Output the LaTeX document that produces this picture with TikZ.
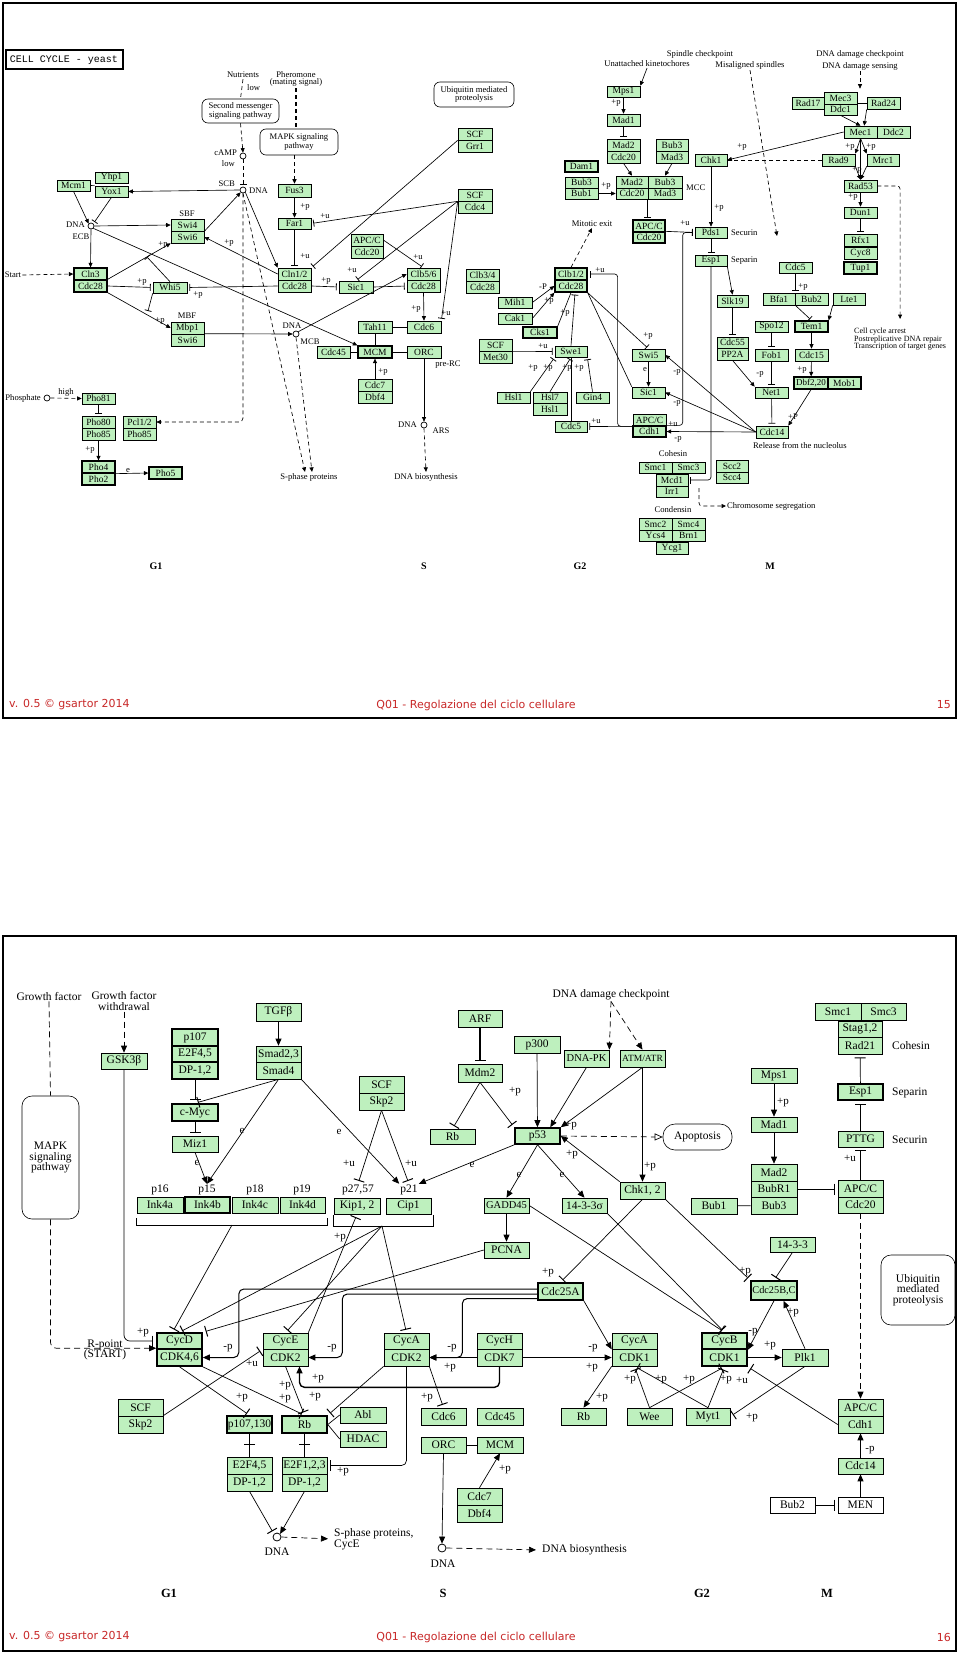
\documentclass[tikz,border=0pt]{standalone}
\usepackage{fontspec}
\setmainfont{Liberation Serif}
\newfontfamily\ftsans{DejaVu Sans}
\newfontfamily\ftmono{Liberation Mono}
\usetikzlibrary{arrows.meta,calc}
\definecolor{kg}{RGB}{190,240,190}
\definecolor{fred}{RGB}{200,40,40}
\newcount\lbc
\newcommand\bx[7][]{\node[gbox,minimum width={#5-#3},minimum height={#6-#4},#1] (#2) at ({(#3+#5)/2},{(#4+#6)/2}) {#7};}
\newcommand\lb[4][]{\global\advance\lbc by 1\relax\node[lab,#1] (lb\the\lbc) at (#2,#3) {#4};}
\tikzset{
 bfont/.style={font=\fontsize{9.5}{9.5}\selectfont},
 lfont/.style={font=\fontsize{8.6}{8.6}\selectfont},
 tfont/.style={font=\fontsize{8.6}{8.6}\selectfont},
 gbox/.style={draw, fill=kg, inner sep=0pt, line width=0.65pt, bfont},
 bd/.style={line width=1.3pt},
 wbox/.style={fill=white},
 pill/.style={draw, rounded corners=6pt, inner sep=1pt, align=center, line width=0.6pt, tfont},
 ln/.style={line width=0.65pt},
 arr/.style={ln, -{Triangle[length=4.5pt,width=4pt]}},
 inh/.style={ln, -{Bar[width=7pt,line width=0.8pt]}, shorten >=2pt},
 dsh/.style={dash pattern=on 4pt off 3pt},
 lab/.style={inner sep=0.3pt, lfont},
 txt/.style={inner sep=1pt, tfont, align=center},
 dot/.style={circle, draw, fill=white, inner sep=0pt, minimum size=6pt, line width=0.7pt},
 phase/.style={inner sep=0pt, font=\bfseries\fontsize{10}{10}\selectfont},
 foot/.style={inner sep=0pt, text=fred, font=\ftsans\fontsize{11}{11}\selectfont},
}
\begin{document}
\begin{tikzpicture}[x=1pt,y=-1pt]
\fill[white] (0,0) rectangle (960,1654);
\useasboundingbox (0,0) rectangle (960,1654);
% ================= TOP SLIDE =================
\draw[line width=2.2pt] (3,3) rectangle (956,718);
\node[foot,anchor=west] (f1) at (9,705) {v. 0.5 © gsartor 2014};
\node[foot] (f2) at (476,705) {Q01 - Regolazione del ciclo cellulare};
\node[foot,anchor=east] (f3) at (951,705) {15};
\node[draw, line width=2pt, minimum width=117, minimum height=19, inner sep=0, font=\ftmono\fontsize{10}{10}\selectfont] (title) at (64,60) {CELL CYCLE - yeast};
\begin{scope}
% free texts
\node[txt] (nutr) at (243,75) {Nutrients};
\node[txt,anchor=west] (nlow) at (246,88) {low};
\node[txt, font=\fontsize{8.6}{7.8}\selectfont] (phero) at (296,79) {Pheromone\\(mating signal)};
\node[pill, minimum width=77, minimum height=24] (secm) at (240.5,111) {Second messenger\\signaling pathway};
\node[pill, minimum width=78, minimum height=26] (mapky) at (299,142) {MAPK signaling\\pathway};
\node[pill, minimum width=80, minimum height=25] (ubqy) at (474,94.5) {Ubiquitin mediated\\proteolysis};
\node[dot] (camp) at (243,156) {};
\node[txt,anchor=east] (campl) at (238,153) {cAMP};
\node[txt,anchor=east] (campl2) at (236,164) {low};
\node[dot] (scb) at (243,190) {};
\node[txt,anchor=east] (scbl) at (236,184) {SCB};
\node[txt,anchor=west] (scbd) at (248,191) {DNA};
\node[dot] (ecb) at (91,226) {};
\node[txt,anchor=east] (ecbl) at (86,225) {DNA};
\node[txt] (ecbl2) at (81,237) {ECB};
\node[dot] (mcb) at (296,334) {};
\node[txt] (mcbl) at (292,326) {DNA};
\node[txt] (mcbl2) at (310,342) {MCB};
\node[dot] (ars) at (424,425) {};
\node[txt,anchor=east] (arsl) at (418,425) {DNA};
\node[txt] (arsl2) at (441,431) {ARS};
\node[dot] (pho) at (47,398) {};
\node[txt,anchor=east] (phol) at (42,398) {Phosphate};
\node[txt] (start) at (13,275) {Start};
\node[txt] (sph) at (309,477) {S-phase proteins};
\node[txt] (dnab) at (426,477) {DNA biosynthesis};
\node[txt] (prerc) at (448,365) {pre-RC};
\node[txt] (mitex) at (592,224) {Mitotic exit};
\node[txt] (spck) at (700,54) {Spindle checkpoint};
\node[txt] (unatt) at (647,64) {Unattached kinetochores};
\node[txt] (misal) at (750,65) {Misaligned spindles};
\node[txt] (dnack) at (860,54) {DNA damage checkpoint};
\node[txt] (dnase) at (860,66) {DNA damage sensing};
\node[txt,anchor=west] (mccl) at (685,188) {MCC};
\node[txt,anchor=west] (secl) at (730,233) {Securin};
\node[txt,anchor=west] (sepl) at (730,261) {Separin};
\node[txt,anchor=north west,align=left,font=\fontsize{8}{7.6}\selectfont] (arrest) at (853,327) {Cell cycle arrest\\Postreplicative DNA repair\\Transcription of target genes};
\node[txt,anchor=west] (relnuc) at (752,446) {Release from the nucleolus};
\node[txt] (cohl) at (673,454) {Cohesin};
\node[txt] (conl) at (673,510) {Condensin};
\node[txt,anchor=west] (chrs) at (726,506) {Chromosome segregation};
\node[txt] (sbfl) at (187,214) {SBF};
\node[txt] (mbfl) at (187,316) {MBF};
\node[phase] (g1t) at (156,566) {G1};
\node[phase] (st) at (424,566) {S};
\node[phase] (g2t) at (580,566) {G2};
\node[phase] (mt) at (770,566) {M};
% boxes
\bx{mcm1}{57}{180}{90}{191}{Mcm1}
\bx{yhp1}{95}{172}{128}{183}{Yhp1}
\bx{yox1}{95}{186}{128}{197}{Yox1}
\bx{swi4}{171}{219}{204}{231}{Swi4}
\bx{swi6a}{171}{231}{204}{243}{Swi6}
\bx[bd]{cln3}{74}{268}{107}{280}{Cln3}
\bx[bd]{cdc28a}{74}{280}{107}{292}{Cdc28}
\bx{whi5}{153}{282}{187}{293}{Whi5}
\bx{mbp1}{171}{322}{204}{334}{Mbp1}
\bx{swi6b}{171}{334}{204}{346}{Swi6}
\bx{fus3}{278}{184}{311}{197}{Fus3}
\bx{far1}{278}{218}{311}{229}{Far1}
\bx{cln12}{278}{268}{311}{280}{Cln1/2}
\bx{cdc28b}{278}{280}{311}{292}{Cdc28}
\bx{scf1}{458}{128}{492}{140}{SCF}
\bx{grr1}{458}{140}{492}{152}{Grr1}
\bx{scf2}{458}{189}{492}{201}{SCF}
\bx{cdc4}{458}{201}{492}{213}{Cdc4}
\bx{apcc1}{351}{234}{383}{246}{APC/C}
\bx{cdc20a}{351}{246}{383}{258}{Cdc20}
\bx{sic1}{339}{281}{373}{293}{Sic1}
\bx{clb56}{407}{268}{440}{280}{Clb5/6}
\bx{cdc28c}{407}{280}{440}{292}{Cdc28}
\bx{clb34}{466}{269}{499}{281}{Clb3/4}
\bx{cdc28d}{466}{281}{499}{293}{Cdc28}
\bx[bd]{clb12}{555}{268}{587}{280}{Clb1/2}
\bx[bd]{cdc28e}{555}{280}{587}{292}{Cdc28}
\bx{mih1}{498}{297}{532}{308}{Mih1}
\bx{cak1}{498}{313}{532}{324}{Cak1}
\bx[bd]{cks1}{523}{327}{557}{338}{Cks1}
\bx{scf3}{479}{339}{512}{351}{SCF}
\bx{met30}{479}{351}{512}{363}{Met30}
\bx{swe1}{555}{346}{587}{357}{Swe1}
\bx{hsl1}{497}{392}{530}{403}{Hsl1}
\bx{hsl7}{533}{392}{567}{403}{Hsl7}
\bx{hsl1b}{533}{403}{567}{415}{Hsl1}
\bx{gin4}{576}{392}{609}{403}{Gin4}
\bx{cdc5a}{555}{421}{587}{432}{Cdc5}
\bx{tah11}{358}{321}{392}{333}{Tah11}
\bx{cdc6y}{407}{321}{441}{333}{Cdc6}
\bx{cdc45y}{317}{346}{350}{358}{Cdc45}
\bx[bd]{mcmy}{358}{346}{392}{358}{MCM}
\bx{orcy}{407}{346}{441}{358}{ORC}
\bx{cdc7y}{358}{379}{392}{391}{Cdc7}
\bx{dbf4y}{358}{391}{392}{403}{Dbf4}
\bx{pho81}{82}{393}{115}{404}{Pho81}
\bx{pho80}{82}{416}{115}{428}{Pho80}
\bx{pho85a}{82}{428}{115}{440}{Pho85}
\bx{pcl12}{123}{416}{156}{428}{Pcl1/2}
\bx{pho85b}{123}{428}{156}{440}{Pho85}
\bx[bd]{pho4}{82}{461}{115}{473}{Pho4}
\bx[bd]{pho2}{82}{473}{115}{485}{Pho2}
\bx[bd]{pho5}{149}{467}{182}{479}{Pho5}
\bx{mps1}{607}{86}{640}{97}{Mps1}
\bx{mad1}{607}{114}{640}{126}{Mad1}
\bx{mad2a}{607}{139}{640}{151}{Mad2}
\bx{cdc20b}{607}{151}{640}{163}{Cdc20}
\bx[bd]{dam1}{565}{161}{598}{172}{Dam1}
\bx{bub3a}{565}{177}{598}{188}{Bub3}
\bx{bub1}{565}{188}{598}{199}{Bub1}
\bx{bub3b}{656}{139}{688}{151}{Bub3}
\bx{mad3a}{656}{151}{688}{163}{Mad3}
\bx{mad2b}{616}{176}{648}{188}{Mad2}
\bx{bub3c}{648}{176}{682}{188}{Bub3}
\bx{cdc20c}{616}{188}{648}{199}{Cdc20}
\bx{mad3b}{648}{188}{682}{199}{Mad3}
\bx[bd]{apcc2}{633}{220}{665}{232}{APC/C}
\bx[bd]{cdc20d}{633}{232}{665}{243}{Cdc20}
\bx{chk1}{695}{154}{727}{166}{Chk1}
\bx{pds1}{695}{227}{727}{238}{Pds1}
\bx{esp1}{695}{255}{727}{266}{Esp1}
\bx{slk19}{717}{295}{748}{307}{Slk19}
\bx{cdc5b}{779}{262}{812}{273}{Cdc5}
\bx{bfa1}{763}{293}{795}{305}{Bfa1}
\bx{bub2}{795}{293}{828}{305}{Bub2}
\bx{lte1}{833}{293}{865}{305}{Lte1}
\bx[bd]{tem1}{795}{321}{828}{332}{Tem1}
\bx{cdc15}{795}{349}{828}{361}{Cdc15}
\bx[bd,font=\fontsize{9}{9}\selectfont]{dbf2}{794}{377}{828}{389}{Dbf2,20}
\bx[bd]{mob1}{828}{377}{861}{389}{Mob1}
\bx{spo12}{755}{321}{788}{332}{Spo12}
\bx{fob1}{755}{349}{788}{361}{Fob1}
\bx{net1}{755}{387}{788}{398}{Net1}
\bx{cdc55}{717}{337}{748}{348}{Cdc55}
\bx{pp2a}{717}{348}{748}{360}{PP2A}
\bx{cdc14y}{756}{426}{788}{438}{Cdc14}
\bx{swi5}{632}{349}{665}{361}{Swi5}
\bx{sic1b}{632}{387}{665}{398}{Sic1}
\bx{apcc3}{633}{414}{666}{426}{APC/C}
\bx[bd]{cdh1y}{633}{426}{666}{437}{Cdh1}
\bx{smc1}{639}{462}{672}{473}{Smc1}
\bx{smc3}{672}{462}{705}{473}{Smc3}
\bx{mcd1}{656}{474}{688}{486}{Mcd1}
\bx{irr1}{656}{486}{688}{497}{Irr1}
\bx{scc2}{716}{460}{748}{472}{Scc2}
\bx{scc4}{716}{472}{748}{483}{Scc4}
\bx{smc2}{639}{518}{672}{530}{Smc2}
\bx{smc4}{672}{518}{705}{530}{Smc4}
\bx{ycs4}{639}{530}{672}{541}{Ycs4}
\bx{brn1}{672}{530}{705}{541}{Brn1}
\bx{ycg1}{656}{542}{688}{554}{Ycg1}
\bx{mec3}{824}{92}{857}{104}{Mec3}
\bx{ddc1}{824}{104}{857}{115}{Ddc1}
\bx{rad17}{792}{97}{824}{109}{Rad17}
\bx{rad24}{867}{97}{900}{109}{Rad24}
\bx{mec1}{844}{126}{877}{138}{Mec1}
\bx{ddc2}{877}{126}{910}{138}{Ddc2}
\bx{rad9}{822}{154}{855}{166}{Rad9}
\bx{mrc1}{867}{154}{899}{166}{Mrc1}
\bx{rad53}{844}{180}{877}{192}{Rad53}
\bx{dun1}{844}{207}{877}{218}{Dun1}
\bx{rfx1}{844}{234}{877}{246}{Rfx1}
\bx{cyc8}{844}{247}{877}{259}{Cyc8}
\bx[bd]{tup1}{844}{262}{877}{274}{Tup1}
\coordinate (w1) at (147,257);
\coordinate (w2) at (148,311);
\coordinate (msend) at (777,236);
\coordinate (cs0) at (699,488);
% edges
\draw[ln,dsh] (nutr.south) -- (secm.north);
\draw[ln,dsh,line width=1.2pt] (phero.south) -- (phero.south |- mapky.north);
\draw[arr,dsh] (secm.south) -- (camp.north);
\draw[inh,dsh] (camp.south) -- (scb.north);
\draw[arr,dsh,line width=1.2pt] (mapky.south -| fus3.north) -- (fus3.north);
\draw[arr] (fus3) -- (far1);
\draw[inh] (far1.south) -- (cln12.north);
\draw[inh] (scf1.south west) -- (cln12.north east);
\draw[inh] (scf2.south west) -- (far1.east);
\draw[inh] (scf2.south west) -- (sic1.north);
\draw[inh] (scf2.south west) -- (cdc6y.north east);
\draw[inh] (apcc1.east) -- (clb56.north);
\draw[inh] (cdc28b.east) -- (sic1.west);
\draw[inh] (sic1.east) -- (cdc28c.west);
\draw[arr] (mcb.north east) -- (clb56.west);
\draw[arr] (cdc28c.south) -- (cdc6y.north);
\draw[ln] (mcm1.east) -- (yox1.north west);
\draw[arr] (mcm1.south) -- (ecb.north west);
\draw[inh] (yox1.south) -- (ecb.north east);
\draw[arr] (ecb.east) -- (swi4.west);
\draw[arr] (swi4.south east) -- (scb.south west);
\draw[arr] (cln12.west) -- (swi6a.east);
\draw[arr] (scb.west) -- (yox1.east);
\draw[arr] (scb.south east) -- (cln12.north west);
\draw[arr] (ecb.south) -- (cln3.north);
\draw[arr,dsh] (start.east) -- (cln3.west);
\draw[arr] (cdc28a.north east) -- (swi6a.south west);
\draw[inh] (cdc28a.east) -- (whi5.west);
\draw[inh] (cdc28b.west) -- (whi5.east);
\draw[inh,shorten >=0pt] (whi5.north) -- (w1);
\draw[inh,shorten >=0pt] (whi5.south west) -- (w2);
\draw[arr] (cdc28a.south east) -- (mbp1.west);
\draw[arr] (swi6b.north east) -- (mcb.west);
\draw[arr] (ecb.south east) -- (mcmy.north west);
\draw[arr,dsh] (scb.south) -- ([xshift=-4pt]sph.north);
\draw[arr,dsh] (mcb.south) -- ([xshift=3pt]sph.north);
\draw[arr,dsh,rounded corners=4pt] (scb.south) |- (pcl12.east);
\draw[ln] (tah11) -- (cdc6y);
\draw[ln] (tah11) -- (mcmy);
\draw[ln] (cdc45y) -- (mcmy);
\draw[ln] (mcmy) -- (orcy);
\draw[arr] (cdc7y) -- (mcmy);
\draw[arr] (orcy.south) -- (ars.north);
\draw[arr,dsh] (ars.south) -- (dnab.north);
\draw[arr,dsh] (pho.east) -- (pho81.west);
\draw[inh] (pho81) -- (pho80);
\draw[arr] (pho85a) -- (pho4);
\draw[arr] (pho4.south east) -- (pho5.west);
\draw[arr] (unatt.south) -- (mps1.north east);
\draw[arr] (mps1) -- (mad1);
\draw[inh] (mad1) -- (mad2a);
\draw[arr] (cdc20b.south) -- (mad2b.north);
\draw[arr] (mad3a.south) -- (bub3c.north);
\draw[arr] (bub1.east) -- (cdc20c.west);
\draw[inh] (mad3b.south west) -- (mad3b.south west |- apcc2.north);
\draw[inh] (cdc20d.north east) -- (pds1.west);
\draw[arr,dsh] (misal.south) -- (msend);
\draw[arr] (chk1) -- (pds1);
\draw[inh] (pds1) -- (esp1);
\draw[arr] (esp1.south east) -- (slk19.north);
\draw[inh,rounded corners=3pt] (esp1.south) |- (mcd1.east);
\draw[inh] (slk19) -- (cdc55);
\draw[arr] (pp2a.south) -- (net1.north west);
\draw[inh] (spo12) -- (fob1);
\draw[inh] (fob1) -- (net1);
\draw[inh] (net1) -- (cdc14y);
\draw[inh] (cdc5b.south) -- (cdc5b.south |- bfa1.north);
\draw[inh] (bfa1.south east) -- (tem1.north);
\draw[arr] (lte1.south west) -- (tem1.north east);
\draw[arr] (tem1) -- (cdc15);
\draw[arr] (cdc15) -- (dbf2);
\draw[arr] (dbf2.south) -- (cdc14y.north east);
\draw[arr] (cdc14y.west) -- (swi5.east);
\draw[arr] (cdc14y.west) -- (sic1b.east);
\draw[arr] (cdc14y.west) -- (cdh1y.east);
\draw[arr] (swi5) -- (sic1b);
\draw[inh] (cdc28e.south east) -- (swi5.north);
\draw[ln] (cdc28e.south east) -- (sic1b.north west);
\draw[inh,rounded corners=3pt] (apcc3.south west) -| ([xshift=30pt]clb12.east) -- (clb12.east);
\draw[inh] (apcc3.south west) -- (cdc5a.east);
\draw[inh,rounded corners=3pt] (cdh1y.north east) -| ([xshift=-12pt]pds1.west) -- (pds1.west);
\draw[arr] (mec1.west) -- (chk1.east);
\draw[ln,dsh] (rad9.west) -- (chk1.east);
\draw[ln] (rad24.west -| mec3.east) -- (rad24.west);
\draw[arr] (ddc1.south) -- (mec1.north);
\draw[arr] (rad24.south west) -- (mec1.60);
\draw[arr] (mec1.south) -- (rad9.north east);
\draw[arr] (mec1.south) -- (mrc1.north west);
\draw[arr,line width=1.2pt] (mec1.south) -- (rad53.north);
\draw[arr] (rad9.south east) -- (rad53.north);
\draw[arr] (mrc1.south west) -- (rad53.north);
\draw[arr] (rad53) -- (dun1);
\draw[inh] (dun1) -- (rfx1);
\draw[arr,dsh,rounded corners=3pt,shorten >=8pt] (rad53.east) -| (arrest.north);
\draw[arr,dsh,shorten >=3pt] (dnase.south) -- (dnase.south |- mec3.north);
\draw[arr,dsh,rounded corners=3pt] (cs0) |- (chrs.west);
\draw[arr,dsh] (clb12.north) -- (mitex.south);
\draw[arr] (mih1.east) -- (cdc28e.west);
\draw[arr] (cak1.east) -- (cdc28e.south west);
\draw[ln] (cks1.north east) -- (cdc28e.south);
\draw[inh] (swe1.north) -- ([xshift=4pt]cdc28e.south);
\draw[inh] (scf3.south east) -- (swe1.west);
\draw[inh] (hsl1.north east) -- (swe1.south west);
\draw[inh] (hsl7.north) -- (swe1.south);
\draw[inh] (gin4.north) -- (swe1.south east);
\draw[ln] (swe1.south) -- (cdc5a.north);
% labels
\lb{305}{207}{+p} \lb{325}{216}{+u} \lb{305}{256}{+u} \lb{352}{270}{+u}
\lb{326}{281}{+p} \lb{418}{257}{+u} \lb{416}{309}{+p} \lb{446}{313}{+u}
\lb{163}{245}{+p} \lb{229}{243}{+p} \lb{142}{282}{+p} \lb{198}{295}{+p}
\lb{160}{321}{+p} \lb{383}{372}{+p} \lb{66}{392}{high} \lb{90}{450}{+p}
\lb{128}{471}{e} \lb{616}{103}{+p} \lb{606}{186}{+p} \lb{685}{223}{+u}
\lb{719}{208}{+p} \lb{742}{147}{+p} \lb{850}{147}{+p} \lb{871}{147}{+p}
\lb{857}{170}{+p} \lb{853}{197}{+p} \lb{803}{287}{+p} \lb{802}{370}{+p}
\lb{793}{417}{+P} \lb{760}{374}{-p} \lb{677}{372}{-p} \lb{677}{403}{-p}
\lb{678}{439}{-p} \lb{645}{370}{e} \lb{648}{336}{+p} \lb{600}{270}{+u}
\lb{596}{421}{+u} \lb{673}{424}{+u} \lb{543}{287}{-P} \lb{549}{301}{+p}
\lb{565}{313}{+p} \lb{543}{346}{+u} \lb{533}{368}{+p} \lb{548}{368}{+p}
\lb{567}{368}{+p} \lb{579}{368}{+p}
\end{scope}
% ================= BOTTOM SLIDE =================
\draw[line width=2.2pt] (3,936) rectangle (956,1651);
\node[foot,anchor=west] (f4) at (9,1637) {v. 0.5 © gsartor 2014};
\node[foot] (f5) at (476,1637) {Q01 - Regolazione del ciclo cellulare};
\node[foot,anchor=east] (f6) at (951,1637) {16};
\begin{scope}[
 bfont/.style={font=\fontsize{11.5}{11.5}\selectfont},
 lfont/.style={font=\fontsize{11}{11}\selectfont},
 tfont/.style={font=\fontsize{11.5}{10.5}\selectfont},
 ln/.style={line width=0.7pt},
 arr/.style={ln, -{Triangle[length=7pt,width=6pt]}},
 inh/.style={ln, -{Bar[width=11pt,line width=1pt]}, shorten >=3pt},
 bd/.style={line width=1.6pt},
 dot/.style={circle, draw, fill=white, inner sep=0pt, minimum size=8pt, line width=0.8pt},
 phase/.style={inner sep=0pt, font=\bfseries\fontsize{12.5}{12.5}\selectfont},
 dsh/.style={dash pattern=on 6pt off 4pt}]
\node[txt] (gf) at (49,996) {Growth factor};
\node[txt] (gfw) at (124,1001) {Growth factor\\withdrawal};
\node[pill, minimum width=57, minimum height=123, rounded corners=10pt] (mapkh) at (50.5,1157.5) {MAPK\\signaling\\pathway};
\node[txt] (dnadc) at (611,995) {DNA damage checkpoint};
\node[txt] (rpt) at (105,1350) {R-point\\(START)};
\node[txt,anchor=west,align=left] (sphh) at (333,1539) {S-phase proteins,\\CycE};
\node[txt,anchor=west] (dnabh) at (541,1550) {DNA biosynthesis};
\node[dot] (dnag1) at (277,1537) {};
\node[txt] (dnag1l) at (277,1552) {DNA};
\node[dot] (dnas) at (442,1548) {};
\node[txt] (dnasl) at (443,1564) {DNA};
\node[pill, minimum width=69, minimum height=26, rounded corners=12pt] (apop) at (697.5,1137) {Apoptosis};
\node[pill, minimum width=74, minimum height=70, rounded corners=10pt] (ubqh) at (918,1290) {Ubiquitin\\mediated\\proteolysis};
\node[txt] (p16l) at (160,1190) {p16};
\node[txt] (p15l) at (207,1190) {p15};
\node[txt] (p18l) at (255,1190) {p18};
\node[txt] (p19l) at (302,1190) {p19};
\node[txt] (p27l) at (358,1190) {p27,57};
\node[txt] (p21l) at (409,1190) {p21};
\node[txt,anchor=west] (cohh) at (891,1046) {Cohesin};
\node[txt,anchor=west] (seph) at (891,1093) {Separin};
\node[txt,anchor=west] (sech) at (891,1140) {Securin};
\node[phase] (g1b) at (169,1593) {G1};
\node[phase] (sb) at (443,1593) {S};
\node[phase] (g2b) at (702,1593) {G2};
\node[phase] (mb) at (827,1593) {M};
% boxes
\bx{gsk}{101}{1053}{147}{1069}{GSK3β}
\bx[bd]{p107a}{172}{1029}{218}{1046}{p107}
\bx[bd]{e2f45a}{172}{1046}{218}{1062}{E2F4,5}
\bx[bd]{dp12a}{172}{1062}{218}{1079}{DP-1,2}
\bx{tgfb}{256}{1003}{301}{1021}{TGFβ}
\bx{smad23}{256}{1046}{301}{1062}{Smad2,3}
\bx{smad4}{256}{1062}{301}{1079}{Smad4}
\bx[bd]{cmyc}{172}{1104}{218}{1121}{c-Myc}
\bx{miz1}{172}{1136}{218}{1152}{Miz1}
\bx{ink4a}{137}{1197}{183}{1213}{Ink4a}
\bx[bd]{ink4b}{185}{1197}{230}{1213}{Ink4b}
\bx{ink4c}{232}{1197}{278}{1213}{Ink4c}
\bx{ink4d}{280}{1197}{325}{1213}{Ink4d}
\bx{arf}{458}{1010}{502}{1027}{ARF}
\bx{mdm2}{458}{1064}{502}{1082}{Mdm2}
\bx{rba}{430}{1129}{475}{1144}{Rb}
\bx{p300}{514}{1036}{560}{1053}{p300}
\bx[font=\fontsize{10.5}{10.5}\selectfont]{dnapk}{564}{1050}{609}{1067}{DNA-PK}
\bx[font=\fontsize{9.5}{9.5}\selectfont]{atm}{620}{1050}{665}{1067}{ATM/ATR}
\bx[bd]{p53}{515}{1128}{560}{1144}{p53}
\bx{scfa}{359}{1076}{404}{1093}{SCF}
\bx{skp2a}{359}{1093}{404}{1110}{Skp2}
\bx{kip}{334}{1198}{380}{1214}{Kip1, 2}
\bx{cip}{386}{1198}{431}{1214}{Cip1}
\bx[font=\fontsize{10.5}{10.5}\selectfont]{gadd}{484}{1198}{529}{1213}{GADD45}
\bx{s1433s}{562}{1198}{607}{1213}{14-3-3σ}
\bx{chk12}{620}{1182}{665}{1199}{Chk1, 2}
\bx{pcna}{484}{1242}{529}{1258}{PCNA}
\bx[bd]{cdc25a}{538}{1283}{583}{1300}{Cdc25A}
\bx{mps1h}{751}{1068}{797}{1083}{Mps1}
\bx{mad1h}{751}{1117}{797}{1132}{Mad1}
\bx{mad2h}{751}{1164}{797}{1181}{Mad2}
\bx{bubr1}{751}{1181}{797}{1197}{BubR1}
\bx{bub3h}{751}{1197}{797}{1214}{Bub3}
\bx{bub1h}{691}{1198}{737}{1214}{Bub1}
\bx{smc1h}{815}{1003}{861}{1020}{Smc1}
\bx{smc3h}{861}{1003}{906}{1020}{Smc3}
\bx{stag}{838}{1021}{882}{1037}{Stag1,2}
\bx{rad21}{838}{1037}{882}{1054}{Rad21}
\bx[bd]{esp1h}{838}{1084}{883}{1100}{Esp1}
\bx{pttg}{838}{1131}{883}{1147}{PTTG}
\bx{apcca}{838}{1180}{883}{1197}{APC/C}
\bx{cdc20h}{838}{1197}{883}{1213}{Cdc20}
\bx{s1433}{770}{1237}{815}{1252}{14-3-3}
\bx[bd,font=\fontsize{10.3}{10.3}\selectfont]{cdc25bc}{751}{1281}{797}{1300}{Cdc25B,C}
\bx[bd]{cycd}{157}{1333}{202}{1349}{CycD}
\bx[bd]{cdk46}{157}{1349}{202}{1366}{CDK4,6}
\bx{cyce}{263}{1333}{308}{1349}{CycE}
\bx{cdk2e}{263}{1349}{308}{1366}{CDK2}
\bx{cyca2}{384}{1333}{429}{1349}{CycA}
\bx{cdk2a}{384}{1349}{429}{1366}{CDK2}
\bx{cych}{477}{1333}{522}{1349}{CycH}
\bx{cdk7}{477}{1349}{522}{1366}{CDK7}
\bx{cyca1}{612}{1333}{657}{1349}{CycA}
\bx{cdk1a}{612}{1349}{657}{1366}{CDK1}
\bx[bd]{cycb}{702}{1333}{747}{1349}{CycB}
\bx[bd]{cdk1b}{702}{1349}{747}{1366}{CDK1}
\bx{plk1}{782}{1349}{828}{1366}{Plk1}
\bx{scfb}{118}{1399}{163}{1416}{SCF}
\bx{skp2b}{118}{1416}{163}{1433}{Skp2}
\bx[bd]{p107130}{227}{1416}{272}{1433}{p107,130}
\bx[bd]{rbb}{282}{1416}{327}{1433}{Rb}
\bx{abl}{340}{1407}{386}{1423}{Abl}
\bx{hdac}{340}{1431}{386}{1447}{HDAC}
\bx{e2f45b}{227}{1457}{272}{1474}{E2F4,5}
\bx{dp12b}{227}{1474}{272}{1491}{DP-1,2}
\bx{e2f123}{282}{1457}{327}{1474}{E2F1,2,3}
\bx{dp12c}{282}{1474}{327}{1491}{DP-1,2}
\bx{cdc6h}{421}{1408}{466}{1425}{Cdc6}
\bx{cdc45h}{477}{1408}{523}{1425}{Cdc45}
\bx{orch}{421}{1437}{466}{1453}{ORC}
\bx{mcmh}{477}{1437}{523}{1453}{MCM}
\bx{cdc7h}{457}{1488}{502}{1505}{Cdc7}
\bx{dbf4h}{457}{1505}{502}{1522}{Dbf4}
\bx{rbc}{561}{1408}{606}{1425}{Rb}
\bx{wee}{627}{1408}{672}{1425}{Wee}
\bx{myt1}{686}{1408}{730}{1425}{Myt1}
\bx{apccb}{838}{1399}{883}{1416}{APC/C}
\bx{cdh1h}{838}{1416}{883}{1433}{Cdh1}
\bx{cdc14h}{838}{1458}{883}{1474}{Cdc14}
\bx[wbox]{men}{838}{1497}{883}{1513}{MEN}
\bx[wbox]{bub2h}{770}{1497}{815}{1513}{Bub2}
% brackets
\draw[ln] (136,1218) -- (136,1225) -- (327,1225) -- (327,1218);
\draw[ln] (333,1215) -- (333,1226) -- (433,1226) -- (433,1215);
\coordinate (ib) at (232,1225);
\coordinate (kb) at (382,1226);
% edges
\draw[ln,dsh] (gf.south) -- (mapkh.north);
\draw[arr,dsh,rounded corners=6pt] (mapkh.south) |- (cdk46.north west);
\draw[arr,dsh] (gfw.south) -- (gsk.north);
\draw[inh,rounded corners=6pt] (gsk.south) |- (cycd.west);
\draw[inh] (dp12a.south) -- (cmyc.north);
\draw[inh] (smad4.south) -- (cmyc.north);
\draw[arr] (tgfb) -- (smad23);
\draw[inh] (cmyc) -- (miz1);
\draw[arr] (miz1.south) -- (p15l.north);
\draw[arr] (smad4.south) -- (p15l.north);
\draw[arr] (smad4.south east) -- (p21l.north west);
\draw[inh,line width=1.3pt] (arf) -- (mdm2);
\draw[inh] (mdm2.south) -- (rba.north);
\draw[inh] (mdm2.south) -- (p53.north west);
\draw[arr] (p300) -- (p53);
\draw[arr] (dnapk.south) -- ($(p53.north)!0.55!(p53.north east)$);
\draw[arr] (atm.south) -- (p53.north east);
\draw[arr,dsh] (dnadc.south) -- (dnapk.north east);
\draw[arr,dsh] (dnadc.south) -- (atm.north);
\draw[arr] (atm) -- (chk12);
\draw[arr] (chk12.north west) -- (p53.east);
\draw[ln,dsh,-{Triangle[open,length=8pt,width=7pt]}] (p53.east) -- (apop.west);
\draw[arr] (p53.south west) -- (p21l.north east);
\draw[arr] (p53.south) -- (gadd.north);
\draw[arr] (p53.south) -- (s1433s.north);
\draw[arr] (gadd) -- (pcna);
\draw[inh] (skp2a.south) -- (p27l.north);
\draw[inh] (skp2a.south) -- (p21l.north);
\draw[inh] (cyce.north east) -- (kip.south);
\draw[inh] (ib) -- ($(cycd.north west)!0.35!(cycd.north east)$);
\draw[inh] (kb) -- (cycd.north);
\draw[inh] (kb) -- (cyce.north);
\draw[inh] (kb) -- (cyca2.north);
\draw[inh] (pcna.west) -- (cycd.north east);
\draw[arr,line width=1pt,rounded corners=5pt] ([yshift=2.5pt]cdc25a.west) -| ([xshift=36pt]cdk46.east) -- (cdk46.east);
\draw[arr,line width=1pt,rounded corners=5pt] ([yshift=-2.5pt]cdc25a.west) -| ([xshift=34pt]cdk2e.east) -- (cdk2e.east);
\draw[arr,line width=1pt,rounded corners=5pt] ([yshift=-7pt]cdc25a.west) -| ([xshift=33pt]cdk2a.east) -- (cdk2a.east);
\draw[arr] (cdk7.west) -- (cdk2a.east);
\draw[arr] (cdk7.east) -- (cdk1a.west);
\draw[arr,line width=1.4pt,rounded corners=5pt] (cdk7.south) |- ($(cdk2e.south)+(14,21)$) -- ($(cdk2e.south)+(14,0)$);
\draw[inh,rounded corners=5pt] (cdk2a.south) |- (e2f123.east);
\draw[inh] (cdk2a.south east) -- (cdc6h.north);
\draw[inh] (cdk2a.south west) -- (rbb.north east);
\draw[inh] (cdk46.south) -- (p107130.north);
\draw[inh] (cdk46.south east) -- (rbb.north);
\draw[inh] (cdk2e.south) -- (rbb.north);
\draw[ln] (p107130.south) -- (e2f45b.north);
\draw[ln,-{Bar[width=11pt,line width=1pt]}] (p107130.south) -- ($(p107130.south)!0.5!(e2f45b.north)$);
\draw[ln] (rbb.south) -- (e2f123.north);
\draw[ln,-{Bar[width=11pt,line width=1pt]}] (rbb.south) -- ($(rbb.south)!0.5!(e2f123.north)$);
\draw[ln] (rbb.east) -- (abl.west);
\draw[ln] (rbb.east) -- (hdac.west);
\draw[inh] (dp12b.south) -- (dnag1.north west);
\draw[arr] (dp12c.south) -- (dnag1.north east);
\draw[arr,dsh,shorten >=5pt] (dnag1.east) -- (sphh.west);
\draw[inh] (skp2b.north east) -- (cyce.south west);
\draw[ln] (orch) -- (mcmh);
\draw[arr] (cdc7h.north) -- (mcmh.south);
\draw[arr] (orch.south) -- (dnas.north);
\draw[arr,dsh,shorten >=5pt] (dnas.east) -- (dnabh.west);
\draw[arr] (cdc25a.south east) -- (cyca1.south west);
\draw[inh] (chk12.south) -- (cdc25a.north);
\draw[inh] (chk12.south east) -- (cdc25bc.north west);
\draw[inh] (s1433.south) -- (cdc25bc.north);
\draw[inh] (gadd.east) -- (cycb.north);
\draw[inh] (s1433s.south east) -- (cycb.north);
\draw[arr] (cdc25bc.south) -- (cycb.south east);
\draw[arr] (plk1.north) -- ($(cdc25bc.south)!0.4!(cdc25bc.south east)$);
\draw[arr,line width=1.2pt] (cdk1b.east) -- (plk1.west);
\draw[inh] (plk1.south) -- (myt1.east);
\draw[inh] (wee.north) -- (cdk1a.south);
\draw[inh] (wee.north) -- (cdk1b.south);
\draw[inh] (myt1.north) -- (cdk1a.south);
\draw[inh] (myt1.north) -- (cdk1b.south);
\draw[arr] (cdk1a.south west) -- (rbc.north);
\draw[inh] (cdh1h.west) -- (cdk1b.south east);
\draw[arr,dsh] (cdc20h.south) -- (apccb.north);
\draw[arr] (cdc14h) -- (cdh1h);
\draw[arr] (men) -- (cdc14h);
\draw[inh] (bub2h) -- (men);
\draw[inh] (apcca.north) -- (pttg.south);
\draw[inh] (pttg) -- (esp1h);
\draw[inh] (esp1h) -- (rad21);
\draw[arr] (mps1h) -- (mad1h);
\draw[arr] (mad1h) -- (mad2h);
\draw[inh] (bubr1.east) -- (bubr1.east -| apcca.west);
\draw[ln] (bub1h) -- (bub3h);
% labels
\lb{197}{1163}{e} \lb{242}{1131}{e} \lb{339}{1132}{e} \lb{515}{1092}{+p}
\lb{571}{1126}{+p} \lb{650}{1167}{+p} \lb{572}{1155}{+p} \lb{472}{1165}{e}
\lb{519}{1175}{e} \lb{562}{1175}{e} \lb{349}{1163}{+u} \lb{411}{1163}{+u}
\lb{340}{1238}{+p} \lb{228}{1348}{-p} \lb{332}{1348}{-p} \lb{452}{1348}{-p}
\lb{450}{1368}{+p} \lb{592}{1368}{+p} \lb{593}{1348}{-p} \lb{318}{1379}{+p}
\lb{343}{1472}{+p} \lb{427}{1398}{+p} \lb{315}{1397}{+p} \lb{242}{1398}{+p}
\lb{285}{1399}{+p} \lb{285}{1386}{+p} \lb{252}{1363}{+u} \lb{143}{1333}{+p}
\lb{505}{1470}{+p} \lb{548}{1273}{+p} \lb{745}{1272}{+p} \lb{753}{1332}{-p}
\lb{793}{1313}{+p} \lb{770}{1346}{+p} \lb{752}{1418}{+p} \lb{630}{1380}{+p}
\lb{661}{1380}{+p} \lb{689}{1380}{+p} \lb{726}{1380}{+p} \lb{742}{1380}{+u}
\lb{602}{1398}{+p} \lb{870}{1450}{-p} \lb{850}{1158}{+u} \lb{783}{1103}{+p}
\end{scope}
\end{tikzpicture}
\end{document}
